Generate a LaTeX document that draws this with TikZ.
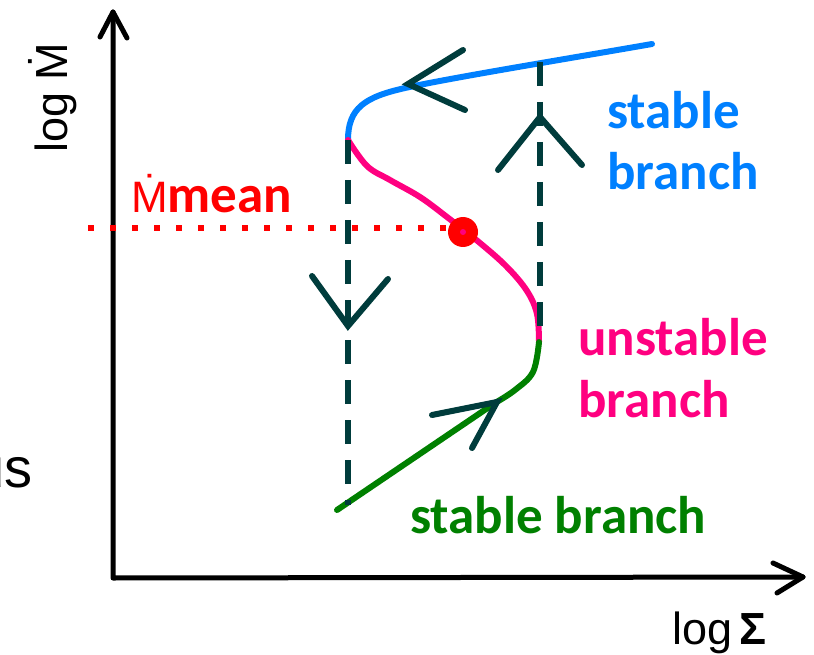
\documentclass[tikz,border=0pt]{standalone}
\usepackage{fontspec}
\setmainfont{Liberation Sans}
\newfontfamily\calib{Carlito}
\definecolor{tealdk}{RGB}{0,60,60}
\definecolor{brblue}{RGB}{0,128,255}
\definecolor{brpink}{RGB}{255,0,128}
\definecolor{brgreen}{RGB}{0,128,0}
\begin{document}
\begin{tikzpicture}[x=1pt,y=-1pt,
  axis/.style={line width=5pt, black, line cap=round, line join=round},
  chev/.style={line width=6pt, tealdk, line cap=round, line join=miter},
  dashv/.style={line width=6pt, tealdk, dash pattern=on 24pt off 16pt},
  branch/.style={line width=6pt, line cap=round, line join=round},
  lbl/.style={inner sep=0pt, anchor=base west, align=left,
    font=\calib\bfseries\fontsize{53}{62}\selectfont},
  axlbl/.style={inner sep=0pt, font=\fontsize{45}{45}\selectfont}]
\useasboundingbox (0,0) rectangle (814,655);
\clip (0,0) rectangle (814,655);
% axes
\coordinate (O) at (113,578);
\coordinate (ytip) at (113,12);
\coordinate (xtip) at (803,577);
\draw[axis] (ytip) -- (O) -- (xtip);
\draw[axis] (100,37) -- (ytip) -- (127,38);
\draw[axis] (773,563) -- (xtip) -- (777,593);
\node[axlbl, anchor=base west] (xlab) at (672,644) {log\,\textbf{Σ}};
\node[axlbl, anchor=base west, rotate=90] (ylab) at (67,153) {log \.{M}};
\node[inner sep=0pt, anchor=base east, font=\fontsize{56}{56}\selectfont] (us) at (33,487) {us};
% mean level
\coordinate (mstart) at (88,228);
\coordinate (pmean) at (463,232);
\draw[red, line width=6pt, dash pattern=on 6pt off 16pt] (mstart) -- (448,228);
\node[inner sep=0pt, anchor=base west] (mlab) at (131,213)
  {\color{red}{\fontsize{44}{44}\selectfont\.{M}}{\calib\bfseries\fontsize{53}{53}\selectfont mean}};
% branches
\draw[branch, brblue] (652,44) .. controls (560,60) and (450,78) .. (405,88)
  .. controls (365,97) and (348,108) .. (348,140);
\draw[branch, brpink] plot[smooth, tension=0.6] coordinates
  {(348,140) (367,166) (390,180) (420,197) (447,217) (480,243) (507,267) (527,291) (537,314) (539,342)};
\draw[branch, brgreen] plot[smooth, tension=0.6] coordinates
  {(539,342) (533,372) (515,390) (495,403)} -- (337,510);
\fill[red] (pmean) circle (15pt);
\fill[brpink] (pmean) circle (3pt);
% jumps
\draw[dashv] (348,140) -- (348,505);
\draw[dashv] (540,62) -- (540,340);
\draw[chev] (312,276) -- (348,326) -- (388,279);
\draw[chev] (498,170) -- (540,117) -- (582,165);
\draw[chev] (463,50) -- (408,84) -- (465,110);
\draw[chev] (432,415) -- (497,402) -- (472,448);
% labels (base anchor = last line)
\node[lbl, text=brblue] (sb1) at (607,190) {stable\\branch};
\node[lbl, text=brpink] (ub) at (578,417) {unstable\\branch};
\node[lbl, text=brgreen] (sb2) at (410,533) {stable branch};
\end{tikzpicture}
\end{document}
